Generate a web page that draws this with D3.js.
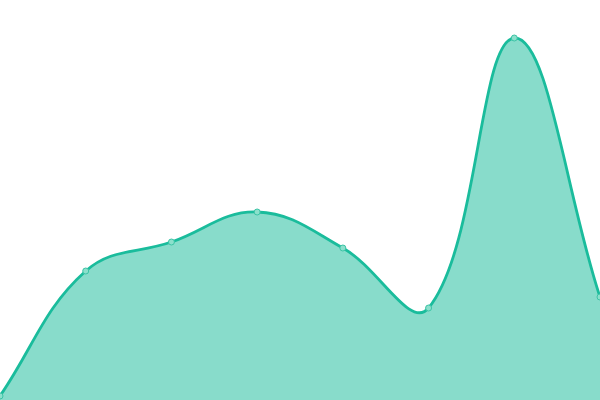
<!DOCTYPE html>
<html>
<head>
<meta charset="utf-8">
<script src="https://cdn.jsdelivr.net/npm/d3@7"></script>
<style>
  html, body { margin: 0; padding: 0; background: #fff; }
  svg { display: block; }
</style>
</head>
<body>
<svg id="chart"></svg>
<script>
// Series values (arbitrary units, 0 at the bottom edge)
const categories = [0, 1, 2, 3, 4, 5, 6, 7];
const values = [4, 129, 158, 188, 152, 92, 362, 103];

const width = 600;
const height = 400;

const x = d3.scaleLinear()
    .domain([0, categories.length - 1])
    .range([0, width]);

const y = d3.scaleLinear()
    .domain([0, 400])
    .range([height, 0]);

const svg = d3.select('#chart')
    .attr('width', width)
    .attr('height', height);

// custom d3 curve: distance-weighted spline (control points scaled by segment lengths)
function curveSpline(tension) {
    return function(context) {
        return {
            _line: NaN,
            _pts: [],
            areaStart() { this._line = 0; },
            areaEnd() { this._line = NaN; },
            lineStart() { this._pts = []; },
            point(px, py) { this._pts.push([+px, +py]); },
            lineEnd() {
                const p = this._pts, n = p.length;
                if (n) {
                    if (this._line) context.lineTo(p[0][0], p[0][1]);
                    else context.moveTo(p[0][0], p[0][1]);
                    const cps = p.map((cur, i) => {
                        const prev = p[Math.max(i - 1, 0)];
                        const next = p[Math.min(i + 1, n - 1)];
                        const d01 = Math.hypot(cur[0] - prev[0], cur[1] - prev[1]);
                        const d12 = Math.hypot(next[0] - cur[0], next[1] - cur[1]);
                        let s01 = d01 / (d01 + d12), s12 = d12 / (d01 + d12);
                        if (isNaN(s01)) s01 = 0;
                        if (isNaN(s12)) s12 = 0;
                        const fa = tension * s01, fb = tension * s12;
                        const cx = v => Math.max(0, Math.min(width, v));
                        const cy = v => Math.max(0, Math.min(height, v));
                        return {
                            prev: [cx(cur[0] - fa * (next[0] - prev[0])), cy(cur[1] - fa * (next[1] - prev[1]))],
                            next: [cx(cur[0] + fb * (next[0] - prev[0])), cy(cur[1] + fb * (next[1] - prev[1]))]
                        };
                    });
                    for (let i = 1; i < n; i++) {
                        const a = cps[i - 1].next, b = cps[i].prev;
                        context.bezierCurveTo(a[0], a[1], b[0], b[1], p[i][0], p[i][1]);
                    }
                }
                if (this._line === 1) context.closePath();
                this._line = 1 - this._line;
            }
        };
    };
}

const curve = curveSpline(0.4);

const area = d3.area()
    .x((d, i) => x(categories[i]))
    .y0(y(0))
    .y1(d => y(d))
    .curve(curve);

const line = d3.line()
    .x((d, i) => x(categories[i]))
    .y(d => y(d))
    .curve(curve);

// filled area under the curve
svg.append('path')
    .datum(values)
    .attr('d', area)
    .attr('fill', '#1abc9c')
    .attr('fill-opacity', 0.52);

// the line on top
svg.append('path')
    .datum(values)
    .attr('d', line)
    .attr('fill', 'none')
    .attr('stroke', '#1abc9c')
    .attr('stroke-width', 2.8);

// small point markers
svg.selectAll('circle')
    .data(values)
    .enter()
    .append('circle')
    .attr('cx', (d, i) => x(categories[i]))
    .attr('cy', d => y(d))
    .attr('r', 3)
    .attr('fill', '#8ce0cc')
    .attr('stroke', '#3cc4a6')
    .attr('stroke-width', 1);
</script>
</body>
</html>
